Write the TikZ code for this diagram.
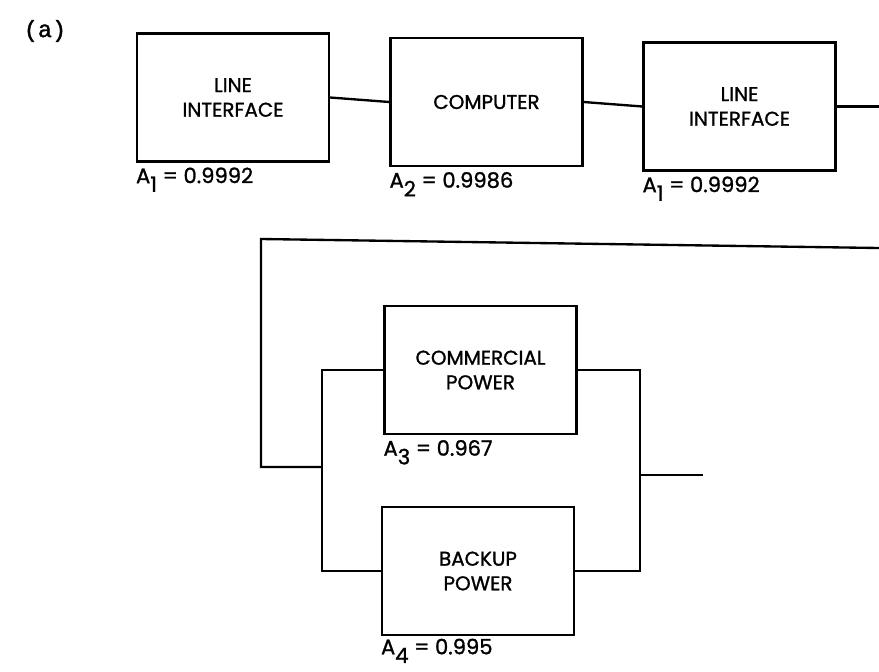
\documentclass[tikz,border=0pt]{standalone}
\usepackage{fontspec}
\setmainfont{Poppins}[FakeBold=1.2]
\newfontfamily\tagfont{Liberation Mono}[FakeBold=1.5]
\usetikzlibrary{positioning}
\tikzset{
  block/.style={draw=black,line width=2pt,minimum width=5.76cm,minimum height=3.84cm,align=center,font=\fontsize{17}{21}\selectfont,inner sep=0pt},
  avail/.style={anchor=north west,inner sep=0pt,font=\fontsize{18}{20}\selectfont},
  wire/.style={line width=2pt,draw=black}
}
\newcommand{\avsub}[1]{\raisebox{-0.75ex}{#1}}

\begin{document}
\begin{tikzpicture}[x=0.03cm,y=-0.03cm]
\useasboundingbox (0,0) rectangle (879,671);
\node[font=\tagfont\fontsize{20}{22}\selectfont] (tag) at (45,31) {(a)};

% serie
\node[block] (li1) at (233,97.5) {LINE\\INTERFACE};
\node[block] (comp) at (486.5,102) {COMPUTER};
\node[block] (li2) at (739.5,106.5) {LINE\\INTERFACE};
\node[avail] (a1) at ([yshift=-4pt]li1.south west) {A\avsub{1} = 0.9992};
\node[avail] (a2) at ([yshift=-4pt]comp.south west) {A\avsub{2} = 0.9986};
\node[avail] (a3) at ([yshift=-4pt]li2.south west) {A\avsub{1} = 0.9992};

% paralelo
\node[block] (com) at (480.5,370) {COMMERCIAL\\POWER};
\node[block] (bak) at (478,571) {BACKUP\\POWER};
\node[avail] (a4) at ([yshift=-4pt]com.south west) {A\avsub{3} = 0.967};
\node[avail] (a5) at ([yshift=-2pt]bak.south west) {A\avsub{4} = 0.995};

\coordinate (edge) at (879,109);
\coordinate (loopin) at (879,248);
\coordinate (tl) at (261,239);
\coordinate (jn) at (322,467);
\coordinate (rx) at (640,475);
\coordinate (out) at (703,475);

\draw[wire] (li1.east) -- (comp.west);
\draw[wire] (comp.east) -- (li2.west);
\draw[wire] (li2.east) -- (li2.east -| edge);
\draw[wire] (loopin) -- (tl) |- (jn);
\draw[wire] (com.west) -- (com.west -| jn) -- (bak.west -| jn) -- (bak.west);
\draw[wire] (com.east) -- (com.east -| rx) -- (bak.east -| rx) -- (bak.east);
\draw[wire] (rx) -- (out);
\end{tikzpicture}
\end{document}
